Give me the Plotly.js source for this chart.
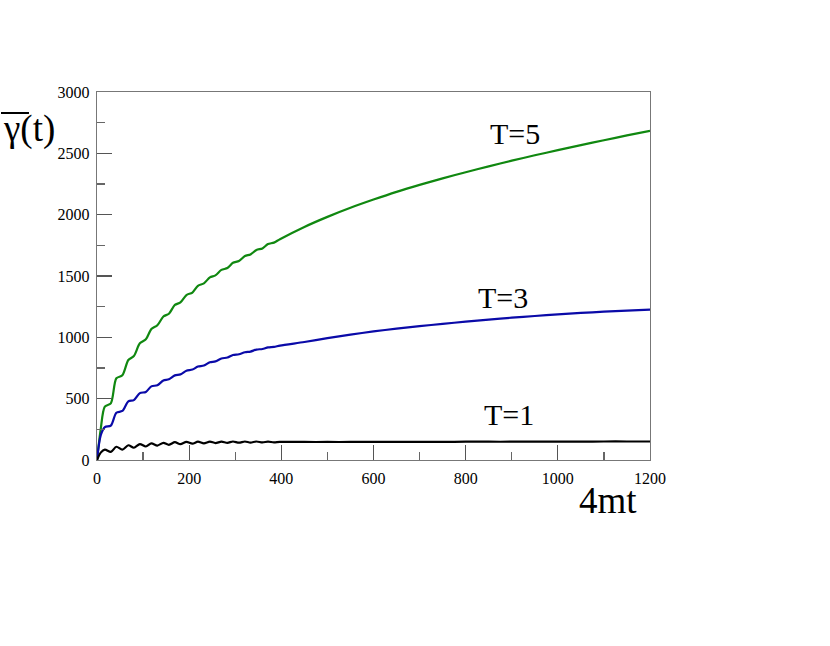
<!DOCTYPE html>
<html>
<head>
<meta charset="utf-8">
<script src="https://cdn.plot.ly/plotly-3.0.1.min.js"></script>
<style>html,body{margin:0;padding:0;background:#fff;}#chart{width:830px;height:646px;}</style>
</head>
<body>
<div id="chart"></div>
<script>
// time axis (4mt)
var tValues = [0, 8, 17, 30, 42, 55, 68, 80, 93, 106, 118, 131, 144, 156, 169, 181, 194, 207, 219, 232,
  245, 257, 270, 283, 295, 308, 321, 333, 346, 359, 371, 384, 397,
  450, 500, 550, 600, 650, 700, 750, 800, 850, 900, 950, 1000, 1050, 1100, 1150, 1200];

var gammaT5 = [0, 250, 435, 462, 666, 690, 815, 848, 951, 984, 1068, 1098, 1170, 1192, 1264, 1285, 1345, 1365, 1420, 1440,
  1489, 1505, 1550, 1565, 1608, 1622, 1663, 1676, 1712, 1725, 1760, 1772, 1800,
  1900, 1982, 2056, 2123, 2186, 2243, 2296, 2346, 2394, 2440, 2484, 2526, 2567, 2607, 2646, 2684];

var gammaT3 = [0, 200, 268, 280, 385, 400, 478, 488, 545, 555, 600, 610, 648, 658, 690, 698, 728, 737, 762, 770,
  797, 804, 828, 835, 856, 862, 878, 884, 900, 905, 918, 922, 932,
  962, 993, 1022, 1048, 1071, 1091, 1110, 1128, 1145, 1160, 1174, 1187, 1199, 1209, 1218, 1226];

var gammaT1 = [0, 60, 85, 66, 108, 84, 120, 100, 130, 110, 136, 118, 140, 124, 145, 129, 148, 133, 149, 136,
  150, 138, 150, 140, 151, 141, 151, 142, 151, 143, 150, 144, 148,
  147, 147, 147, 148, 148, 148, 148, 149, 149, 149, 150, 150, 150, 151, 151, 151];

var seriesNames = ["T=5", "T=3", "T=1"];
var seriesColors = ["#108810", "#0a0aa8", "#000000"];
var seriesData = [gammaT5, gammaT3, gammaT1];

var xTicks = [0, 200, 400, 600, 800, 1000, 1200];
var yTicks = [0, 500, 1000, 1500, 2000, 2500, 3000];

var serif = "Liberation Serif";

var traces = seriesData.map(function (ys, i) {
  return {
    x: tValues, y: ys, type: "scatter", mode: "lines", name: seriesNames[i],
    line: {color: seriesColors[i], width: 2.2, shape: "spline", smoothing: 0.8},
    hoverinfo: "skip"
  };
});

function axisDef(range, ticks, minorStep, standoff) {
  return {
    range: range, tickmode: "array", tickvals: ticks, ticktext: ticks.map(String),
    showgrid: false, zeroline: false, showline: true, linecolor: "#777", linewidth: 1.2,
    mirror: true, ticks: "inside", ticklen: 15, tickwidth: 1.2, tickcolor: "#555",
    ticklabelstandoff: standoff,
    tickfont: {family: serif, size: 16, color: "#000"},
    minor: {ticks: "inside", ticklen: 8, tickwidth: 1.2, tickcolor: "#666", showgrid: false, dtick: minorStep, tick0: 0}
  };
}

var layout = {
  width: 830, height: 646,
  margin: {l: 97, r: 180, t: 92, b: 186},
  font: {family: serif, size: 16, color: "#000"},
  paper_bgcolor: "#fff", plot_bgcolor: "#fff",
  showlegend: false,
  xaxis: axisDef([0, 1200], xTicks, 100, 4),
  yaxis: axisDef([0, 3000], yTicks, 250, 3),
  annotations: [
    {text: "T=5", x: 907, y: 2658, xref: "x", yref: "y", showarrow: false, font: {family: serif, size: 30, color: "#000"}},
    {text: "T=3", x: 881, y: 1321, xref: "x", yref: "y", showarrow: false, font: {family: serif, size: 30, color: "#000"}},
    {text: "T=1", x: 894, y: 367, xref: "x", yref: "y", showarrow: false, font: {family: serif, size: 30, color: "#000"}},
    {text: "4mt", x: 0.924, y: -0.109, xref: "paper", yref: "paper", xanchor: "center", yanchor: "middle",
      showarrow: false, font: {family: serif, size: 37, color: "#000"}},
    {text: "γ(t)", x: -0.174, y: 0.899, xref: "paper", yref: "paper", xanchor: "left", yanchor: "middle",
      showarrow: false, font: {family: serif, size: 37, color: "#000"}}
  ],
  shapes: [
    {type: "line", xref: "paper", yref: "paper", x0: -0.1736, x1: -0.123, y0: 0.943, y1: 0.943,
      line: {color: "#000", width: 2}}
  ]
};

Plotly.newPlot("chart", traces, layout, {displayModeBar: false, staticPlot: true});
</script>
</body>
</html>
